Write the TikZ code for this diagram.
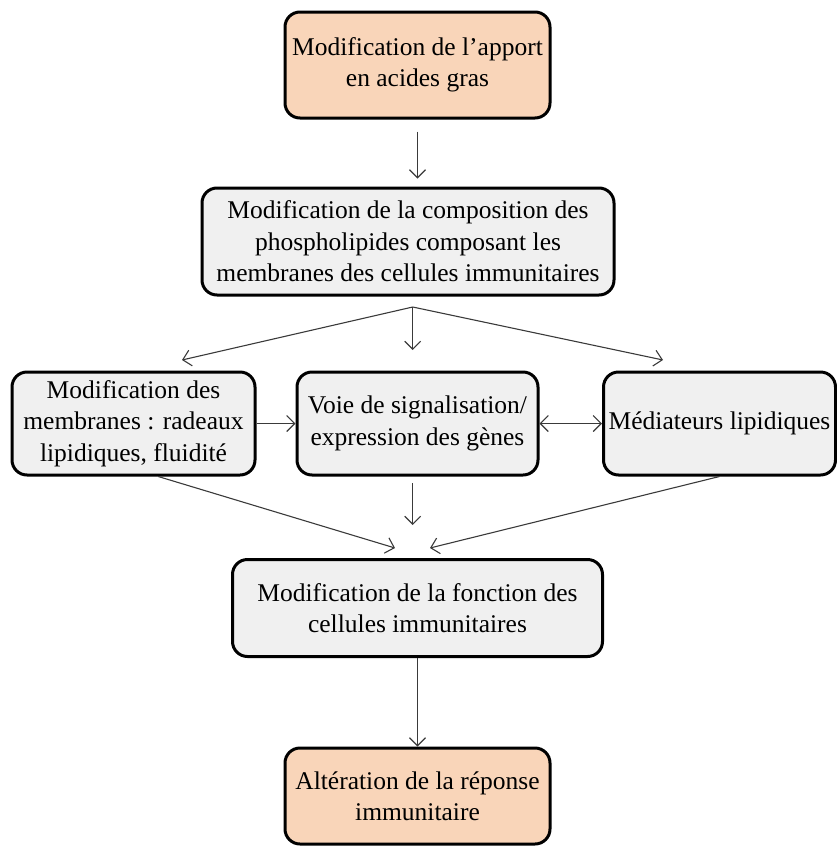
\documentclass[tikz,border=0pt]{standalone}
\usepackage{fontspec}
\setmainfont{Liberation Serif}
\usetikzlibrary{arrows.meta}

\begin{document}
\begin{tikzpicture}[
    x=1pt, y=-1pt,
    every node/.style={font=\fontsize{25.5}{31.5}\selectfont, align=center},
    box/.style={rounded corners=15pt, draw, line width=3pt, inner sep=0pt},
    peach/.style={box, fill=apricot},
    grey/.style={box, fill=pale},
    arr/.style={-{Straight Barb[length=8pt,width=16pt]}, line width=1.1pt, draw=darkline},
    arr2/.style={arr, {Straight Barb[length=8pt,width=16pt]}-{Straight Barb[length=8pt,width=16pt]}}
  ]
    \definecolor{apricot}{HTML}{F9D5B9}
    \definecolor{pale}{HTML}{F0F0F0}
    \definecolor{darkline}{HTML}{3A3A3A}
    \useasboundingbox (0,0) rectangle (837,852);

    \node[peach, minimum width=265pt, minimum height=106pt] (apport) at (417.5,65)
      {Modification de l'apport\\en acides gras};
    \node[grey, minimum width=412pt, minimum height=107pt] (compo) at (408,241.5)
      {Modification de la composition des\\phospholipides composant les\\membranes des cellules immunitaires};
    \node[grey, minimum width=243pt, minimum height=103pt] (memb) at (133.5,423.5)
      {Modification des\\membranes : radeaux\\lipidiques, fluidité};
    \node[grey, minimum width=241pt, minimum height=103pt] (voie) at (417.5,423.5)
      {Voie de signalisation/\\expression des gènes};
    \node[grey, minimum width=232pt, minimum height=103pt] (medi) at (719.5,423.5)
      {Médiateurs lipidiques};
    \node[grey, minimum width=370pt, minimum height=97pt] (fonc) at (417.5,608)
      {Modification de la fonction des\\cellules immunitaires};
    \node[peach, minimum width=265pt, minimum height=96pt] (alter) at (417.5,796)
      {Altération de la réponse\\immunitaire};

    \coordinate (split) at (412.7,307);
    \coordinate (tipL) at (182,360);
    \coordinate (tipC) at (412.7,350);
    \coordinate (tipR) at (663,360);
    \coordinate (midtop) at (412.7,483);
    \coordinate (midtip) at (412.7,525);
    \coordinate (tipA) at (395,548);
    \coordinate (tipB) at (430,548);

    \draw[arr, shorten <=12pt, shorten >=8pt] (apport) -- (apport |- compo.north);
    \draw[arr] (split) -- (tipL);
    \draw[arr] (split) -- (tipC);
    \draw[arr] (split) -- (tipR);
    \draw[arr] (memb.east) -- (voie.west);
    \draw[arr2] (voie.east) -- (medi.west);
    \draw[arr] (memb.-65) -- (tipA);
    \draw[arr] (midtop) -- (midtip);
    \draw[arr] (medi.south) -- (tipB);
    \draw[arr] (fonc) -- (fonc |- alter.north);
\end{tikzpicture}
\end{document}
